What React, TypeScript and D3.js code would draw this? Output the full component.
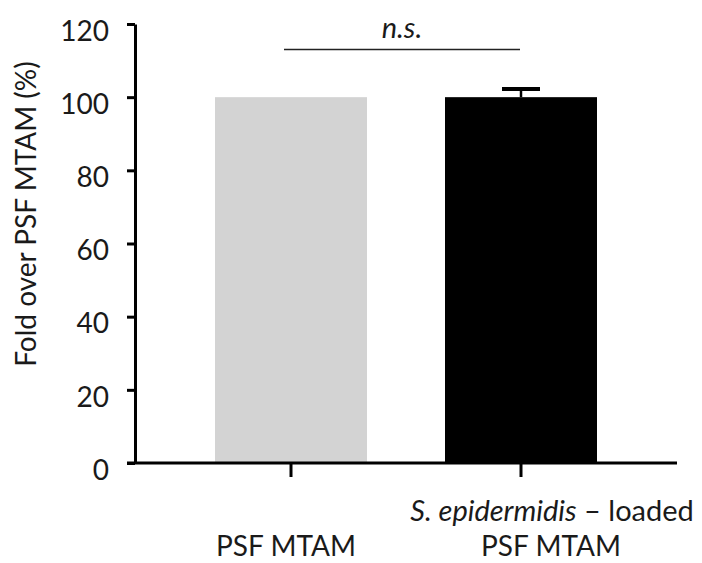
import React, { useRef, useEffect } from "react";
import * as d3 from "d3";

const categories = ["PSF MTAM", "S. epidermidis-loaded PSF MTAM"];
const means = [100, 100];
const errors = [0, 2.2];
const barColors = ["#d3d3d3", "#000000"];
const yTicks = [0, 20, 40, 60, 80, 100, 120];
const nsLevel = 113;

const FONT = "Lato, 'Open Sans', sans-serif";

function App() {
  const svgRef = useRef<SVGSVGElement>(null);

  useEffect(() => {
    const svg = d3.select(svgRef.current);
    svg.selectAll("*").remove();

    const width = 702;
    const height = 563;
    svg.attr("width", width).attr("height", height);

    const x0 = 135;
    const x1 = 677;
    const barWidth = 152;

    const yScale = d3.scaleLinear().domain([0, 120]).range([463, 24]);
    const xScale = d3.scalePoint<string>().domain(categories).range([291, 521]);

    // bars
    svg
      .selectAll("rect.bar")
      .data(categories)
      .enter()
      .append("rect")
      .attr("class", "bar")
      .attr("x", (d) => (xScale(d) as number) - barWidth / 2)
      .attr("width", barWidth)
      .attr("y", (_, i) => yScale(means[i]))
      .attr("height", (_, i) => yScale(0) - yScale(means[i]))
      .attr("fill", (_, i) => barColors[i]);

    // error bars (upper only)
    categories.forEach((c, i) => {
      if (!errors[i]) return;
      const cx = xScale(c) as number;
      svg
        .append("line")
        .attr("x1", cx)
        .attr("x2", cx)
        .attr("y1", yScale(means[i]))
        .attr("y2", yScale(means[i] + errors[i]))
        .attr("stroke", "#000")
        .attr("stroke-width", 2.5);
      svg
        .append("line")
        .attr("x1", cx - 19)
        .attr("x2", cx + 19)
        .attr("y1", yScale(means[i] + errors[i]))
        .attr("y2", yScale(means[i] + errors[i]))
        .attr("stroke", "#000")
        .attr("stroke-width", 4);
    });

    // y axis
    const yAxis = d3
      .axisLeft(yScale)
      .tickValues(yTicks)
      .tickSize(8)
      .tickSizeOuter(0)
      .tickPadding(18)
      .tickFormat(d3.format("d"));
    const gy = svg.append("g").attr("transform", `translate(${x0},0)`).call(yAxis);
    gy.select(".domain").attr("stroke", "#000").attr("stroke-width", 3);
    gy.selectAll(".tick line").attr("stroke", "#000").attr("stroke-width", 3);
    gy.selectAll(".tick text")
      .attr("font-family", FONT)
      .attr("font-size", 28)
      .attr("fill", "#1a1a1a")
      .attr("dy", "0.58em");

    // x axis
    svg
      .append("line")
      .attr("x1", x0 - 8)
      .attr("x2", x1)
      .attr("y1", yScale(0))
      .attr("y2", yScale(0))
      .attr("stroke", "#000")
      .attr("stroke-width", 3);
    svg
      .selectAll("line.xtick")
      .data(categories)
      .enter()
      .append("line")
      .attr("class", "xtick")
      .attr("x1", (d) => xScale(d) as number)
      .attr("x2", (d) => xScale(d) as number)
      .attr("y1", yScale(0))
      .attr("y2", yScale(0) + 14)
      .attr("stroke", "#000")
      .attr("stroke-width", 3);

    // x labels
    const lab = svg
      .append("g")
      .attr("font-family", FONT)
      .attr("font-size", 28)
      .attr("fill", "#1a1a1a")
      .attr("text-anchor", "middle");
    lab.append("text").attr("x", 286).attr("y", 556).text("PSF MTAM");
    const t2 = lab.append("text").attr("x", 552).attr("y", 521).attr("font-size", 29);
    t2.append("tspan").attr("font-style", "italic").text("S. epidermidis");
    t2.append("tspan").text(" \u2013 loaded");
    lab.append("text").attr("x", 551).attr("y", 556).text("PSF MTAM");

    // y title
    svg
      .append("text")
      .attr("transform", `translate(36,${214}) rotate(-90)`)
      .attr("text-anchor", "middle")
      .attr("font-family", FONT)
      .attr("font-size", 28)
      .attr("fill", "#1a1a1a")
      .text("Fold over PSF MTAM (%)");

    // significance bracket
    svg
      .append("line")
      .attr("x1", 284)
      .attr("x2", 520)
      .attr("y1", yScale(nsLevel))
      .attr("y2", yScale(nsLevel))
      .attr("stroke", "#222")
      .attr("stroke-width", 1.5);
    svg
      .append("text")
      .attr("x", 402)
      .attr("y", yScale(nsLevel) - 12)
      .attr("text-anchor", "middle")
      .attr("font-family", FONT)
      .attr("font-style", "italic")
      .attr("font-size", 29)
      .attr("fill", "#1a1a1a")
      .text("n.s.");
  }, []);

  return <svg ref={svgRef} style={{ position: "absolute", left: 0, top: 0 }}></svg>;
}

export default App;
